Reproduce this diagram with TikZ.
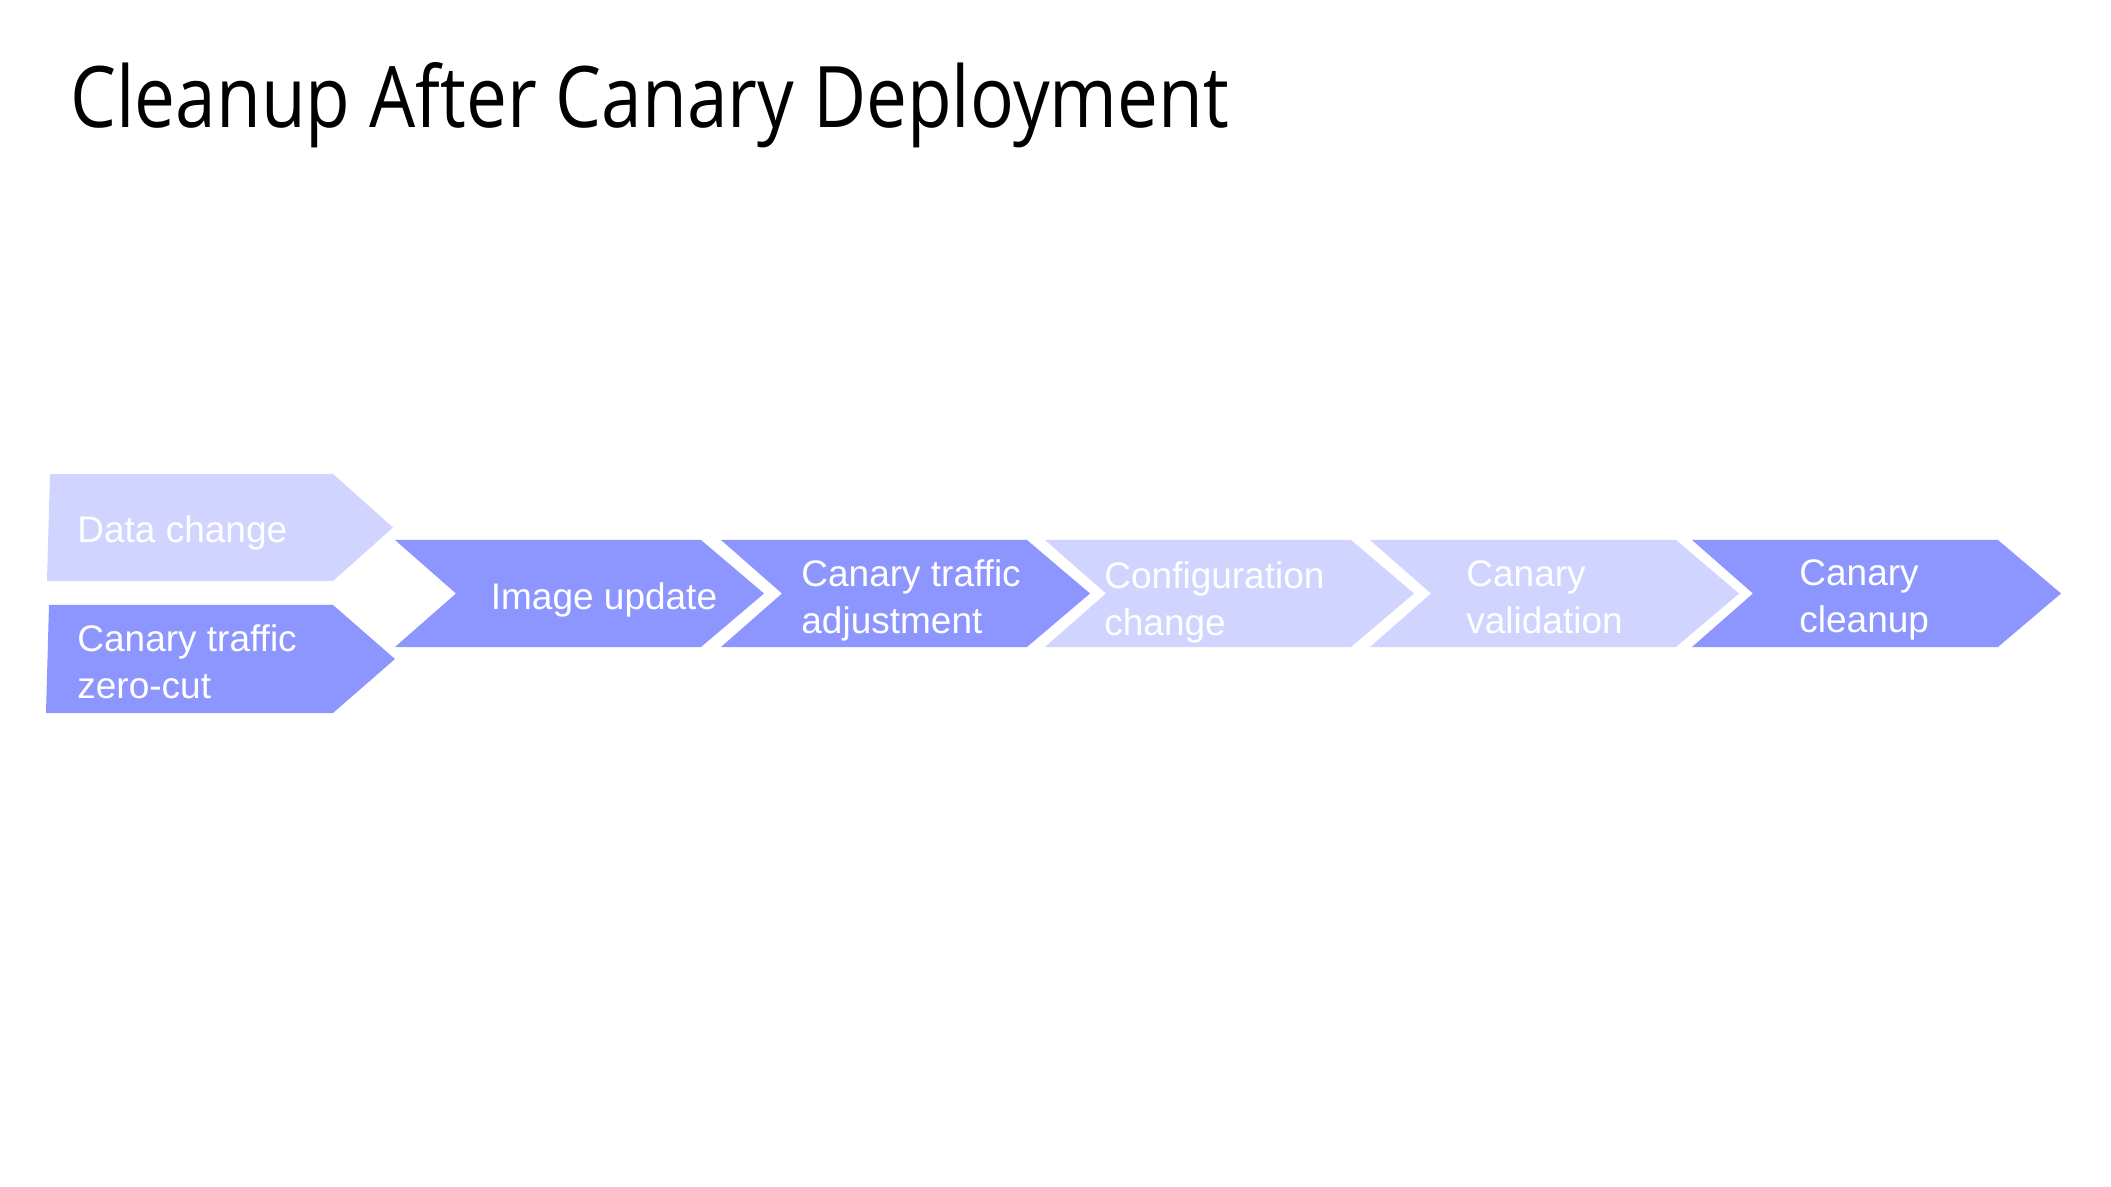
\documentclass[tikz,border=0pt]{standalone}
\usepackage{fontspec}
\setmainfont{Liberation Sans}
\newfontfamily\titlefont{Open Sans}
\definecolor{darkc}{RGB}{141,149,255}
\definecolor{lightc}{RGB}{208,212,255}
\begin{document}
\begin{tikzpicture}[x=0.5pt,y=-0.5pt,
  lbl/.style={text=white, font=\fontsize{18.5}{23.5}\selectfont, inner sep=0pt, align=left}]
\useasboundingbox[fill=white] (0,0) rectangle (2111,1187);
% title
\node[anchor=base west, inner sep=0pt, font=\titlefont\fontsize{42.5}{50}\selectfont] (title) at (70,128) {\scalebox{0.858}[1]{Cleanup After Canary Deployment}};
% left arrows
\fill[lightc] (50,474) -- (333,474) -- (393,527.5) -- (333,581) -- (47,581) -- cycle;
\fill[darkc] (49,605) -- (333,605) -- (395,659) -- (333,713) -- (46,713) -- cycle;
% chevrons
\foreach \x/\c in {395/darkc, 721/darkc, 1045/lightc, 1370/lightc, 1692/darkc}
  \fill[\c] (\x,540) -- ++(306,0) -- ++(63,53.5) -- ++(-63,53.5) -- ++(-306,0) -- ++(61,-53.5) -- cycle;
% labels
\node[lbl, anchor=west] (t1) at (77,533) {Data change};
\node[lbl, anchor=west] (t2) at (77,662) {Canary traffic\\zero-cut};
\node[lbl] (t3) at (604,600) {Image update};
\node[lbl, anchor=west] (t4) at (801,600) {Canary traffic\\adjustment};
\node[lbl, anchor=west] (t5) at (1104,602) {Configuration\\change};
\node[lbl, anchor=west] (t6) at (1466,597) {Canary\\validation};
\node[lbl, anchor=west] (t7) at (1799,600) {Canary\\cleanup};
\end{tikzpicture}
\end{document}
